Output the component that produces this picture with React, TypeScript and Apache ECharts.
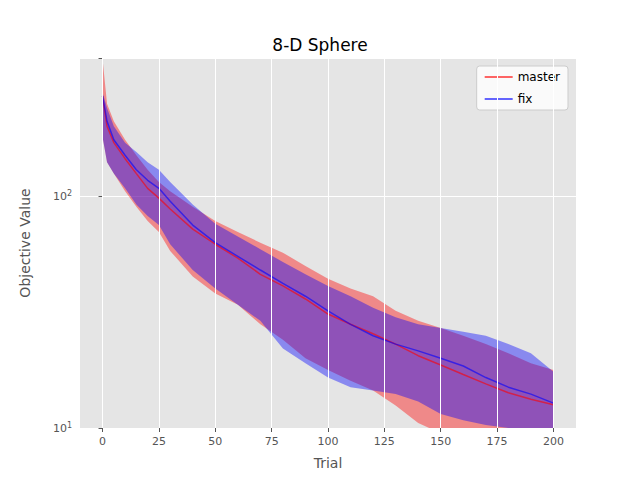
import React, { useEffect, useRef } from "react";
import * as echarts from "echarts";

const trials = [0,2,5,10,15,20,25,30,40,50,60,70,80,90,100,110,120,130,140,150,160,170,180,190,200];
const masterMean = [270,200,170,145,125,108,98,88,72,62,54,46,41,36,31,28,25.5,23,20.5,18.7,17,15.5,14.2,13.3,12.6];
const fixMean = [270,210,175,150,130,117,108,95,75,63,55,48,42,37,32,28,25,23,21.5,20,18.5,16.5,15,14,12.8];
const masterUpper = [390,250,210,175,150,130,115,105,90,78,70,63,57,50,44,40,37,32,29,27,25,23,21,19,17.8];
const masterLower = [180,140,125,105,90,78,70,58,45,38,34,28,24,20,17.8,16,14.5,12.5,10.5,9.5,9,9,9,9,9];
const fixUpper = [280,240,200,170,155,140,130,115,92,76,67,59,52,46,41,37,33,30,28,27,26,25,23,21,17.5];
const fixLower = [180,140,125,108,92,82,75,62,48,40,34,29,22,19,16.5,15,14.5,14,13,11.5,10.8,10.3,10,10,10];
const xTicks = [0, 25, 50, 75, 100, 125, 150, 175, 200];

const RED = "rgba(255,0,0,0.6)";
const BLUE = "rgba(0,0,255,0.6)";

function band(upper: number[], lower: number[], color: string) {
  return {
    type: "custom",
    silent: true,
    clip: true,
    data: [[0, 100]],
    encode: { x: 0, y: 1 },
    z: 1,
    renderItem: (_p: any, api: any) => {
      const pts: number[][] = [];
      trials.forEach((t, i) => pts.push(api.coord([t, upper[i]])));
      for (let i = trials.length - 1; i >= 0; i--) pts.push(api.coord([trials[i], lower[i]]));
      return { type: "polygon", shape: { points: pts }, style: { fill: color } };
    },
  };
}

export default function App() {
  const ref = useRef<HTMLDivElement>(null);
  useEffect(() => {
    const chart = echarts.init(ref.current!, undefined, { renderer: "svg" });
    chart.setOption({
      animation: false,
      textStyle: { fontFamily: "DejaVu Sans" },
      title: { text: "8-D Sphere", left: "center", top: 31, textStyle: { fontSize: 17, fontWeight: "normal", color: "#000" } },
      legend: {
        right: 72, top: 66, orient: "vertical", backgroundColor: "rgba(255,255,255,0.8)",
        borderColor: "#ccc", borderWidth: 1, borderRadius: 3, padding: [5, 8],
        icon: "rect", itemWidth: 28, itemHeight: 2, itemGap: 10,
        textStyle: { fontSize: 12, color: "#000" },
        data: ["master", "fix"],
      },
      grid: { left: 80, right: 64, top: 58, bottom: 52, show: true, backgroundColor: "#E5E5E5", borderWidth: 0 },
      xAxis: {
        type: "value", min: -10, max: 210,
        name: "Trial", nameLocation: "middle", nameGap: 28, nameTextStyle: { fontSize: 14, color: "#555" },
        axisLine: { show: false },
        axisTick: { show: true, length: 4, customValues: xTicks, lineStyle: { color: "#555" } },
        axisLabel: { color: "#555", fontSize: 11, customValues: xTicks },
        splitLine: { show: false },
      },
      yAxis: {
        type: "log", logBase: 10, min: 10, max: 394,
        name: "Objective Value", nameLocation: "middle", nameGap: 48, nameTextStyle: { fontSize: 14, color: "#555" },
        axisLine: { show: false }, axisTick: { show: true, length: 4, lineStyle: { color: "#555" } },
        axisLabel: {
          color: "#555", fontSize: 11,
          formatter: (v: number) => (Math.abs(v - 10) < 0.01 ? "10{s|1}" : Math.abs(v - 100) < 0.1 ? "10{s|2}" : ""),
          rich: { s: { fontSize: 8, verticalAlign: "top", padding: [0, 0, 6, 0], color: "#555" } },
        },
        splitLine: { lineStyle: { color: "#fff", width: 1 } },
      },
      series: [
        band(masterUpper, masterLower, "rgba(255,0,0,0.4)"),
        band(fixUpper, fixLower, "rgba(0,0,255,0.4)"),
        {
          type: "line", silent: true, data: xTicks.map((t) => [t, 10]), showSymbol: false, lineStyle: { width: 0 },
          markLine: { silent: true, symbol: "none", label: { show: false }, lineStyle: { color: "#fff", type: "solid", width: 1 },
            data: xTicks.map((t) => ({ xAxis: t })) }, z: 0,
        },
        { name: "master", type: "line", data: trials.map((t, i) => [t, masterMean[i]]), showSymbol: false,
          lineStyle: { color: RED, width: 1.5 }, itemStyle: { color: RED }, z: 3 },
        { name: "fix", type: "line", data: trials.map((t, i) => [t, fixMean[i]]), showSymbol: false,
          lineStyle: { color: BLUE, width: 1.5 }, itemStyle: { color: BLUE }, z: 3 },
      ],
    });
    return () => chart.dispose();
  }, []);
  return <div ref={ref} style={{ width: 640, height: 480, position: "absolute", left: 0, top: 0 }} />;
}
